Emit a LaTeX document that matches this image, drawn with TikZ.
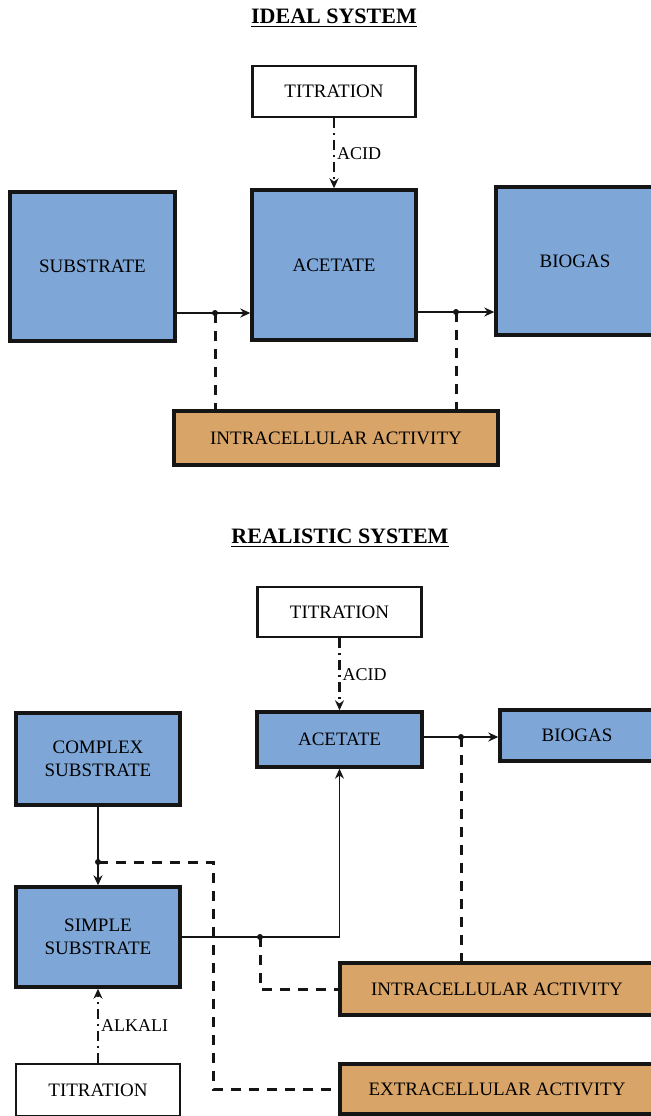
\documentclass[tikz,border=0pt]{standalone}
\usepackage{xcolor}
\usepackage{fontspec}
\setmainfont{Liberation Serif}
\usepackage{tikz}
\usetikzlibrary{arrows.meta,positioning,calc}
\definecolor{boxBlue}{HTML}{7EA7D8}
\definecolor{boxTan}{HTML}{D8A467}
\definecolor{inkBlack}{HTML}{151515}
\tikzset{
  species/.style={draw=inkBlack, fill=boxBlue, line width=1.7pt, align=center,
        inner sep=2pt, font=\fontsize{9.5}{11.5}\selectfont},
  activity/.style={draw=inkBlack, fill=boxTan, line width=1.7pt, align=center,
        inner sep=2pt, font=\fontsize{9.5}{11.5}\selectfont},
  titrbox/.style={draw=inkBlack, fill=white, line width=1.4pt, align=center,
        inner sep=2pt, font=\fontsize{9.5}{11.5}\selectfont},
  flow/.style={-{Stealth[length=5pt,width=4.5pt]}, line width=0.8pt, draw=inkBlack},
  dose/.style={-{Stealth[length=5pt,width=4.5pt]}, line width=1.2pt, draw=inkBlack,
        dash pattern=on 5pt off 2.5pt on 1pt off 2.5pt},
  link/.style={line width=1.5pt, draw=inkBlack, dash pattern=on 5pt off 4pt},
  jdot/.style={circle, fill=inkBlack, inner sep=0pt, minimum size=3pt},
  dlbl/.style={font=\fontsize{9}{11}\selectfont, inner sep=1pt},
  systitle/.style={font=\fontsize{11}{13}\selectfont\bfseries}
}
\begin{document}
\begin{tikzpicture}[x=0.5pt, y=-0.5pt]
\useasboundingbox (0,0) rectangle (650,1116);

% ideal system
\node[systitle] (ttl1) at (334,18) {\underline{IDEAL SYSTEM}};
\node[titrbox, minimum width=81.5pt, minimum height=25.5pt] (tit1) at (334,91.5) {TITRATION};
\node[species, minimum width=82.5pt, minimum height=74.5pt] (sub1) at (92.5,266.5) {SUBSTRATE};
\node[species, minimum width=82pt, minimum height=75pt] (acet1) at (334,265) {ACETATE};
\node[species, minimum width=79pt, minimum height=74pt] (gas1) at (575,261) {BIOGAS};
\node[activity, minimum width=162pt, minimum height=27pt] (intra1) at (336,438) {INTRACELLULAR ACTIVITY};

\coordinate (ja) at (215,313);
\coordinate (jb) at (456,312);
\draw[dose] (tit1.south) -- node[dlbl, right, pos=0.5] {ACID} (acet1.north);
\draw[flow] (sub1.east |- ja) -- (acet1.west |- ja);
\draw[flow] (acet1.east |- jb) -- (gas1.west |- jb);
\draw[link] (ja) -- (ja |- intra1.north);
\draw[link] (jb) -- (jb |- intra1.north);
\node[jdot] at (ja) {};
\node[jdot] at (jb) {};

% realistic system
\node[systitle] (ttl2) at (340,538) {\underline{REALISTIC SYSTEM}};
\node[titrbox, minimum width=82pt, minimum height=25pt] (tit2) at (339.5,612) {TITRATION};
\node[species, minimum width=82.5pt, minimum height=27.5pt] (acet2) at (339.5,739.5) {ACETATE};
\node[species, minimum width=77pt, minimum height=25.5pt] (gas2) at (577,735.5) {BIOGAS};
\node[species, minimum width=82pt, minimum height=46pt] (cplx) at (98,759) {COMPLEX\\SUBSTRATE};
\node[species, minimum width=82pt, minimum height=50pt] (simp) at (98,937) {SIMPLE\\SUBSTRATE};
\node[activity, minimum width=157pt, minimum height=26pt] (intra2) at (497,989) {INTRACELLULAR ACTIVITY};
\node[activity, minimum width=157pt, minimum height=25pt] (extra) at (497,1089) {EXTRACELLULAR ACTIVITY};
\node[titrbox, minimum width=82pt, minimum height=26pt] (tit3) at (98,1090) {TITRATION};

\coordinate (jc) at (461,737);
\coordinate (jd) at (98,862);
\coordinate (je) at (260,937);
\coordinate (xturn) at (213,862);
\draw[dose] (tit2.south) -- node[dlbl, right, pos=0.5] {ACID} (acet2.north);
\draw[flow] (acet2.east |- jc) -- (gas2.west |- jc);
\draw[flow] (cplx.south) -- (simp.north);
\draw[flow, line width=0.7pt] (simp.east) -| (acet2.south);
\draw[dose] (tit3.north) -- node[dlbl, right, pos=0.5] {ALKALI} (simp.south);
\draw[link] (jc) -- (jc |- intra2.north);
\draw[link] (je) |- (intra2.west);
\draw[link] (jd) -- (xturn) |- (extra.west);
\node[jdot] at (jc) {};
\node[jdot] at (jd) {};
\node[jdot] at (je) {};
\end{tikzpicture}
\end{document}
